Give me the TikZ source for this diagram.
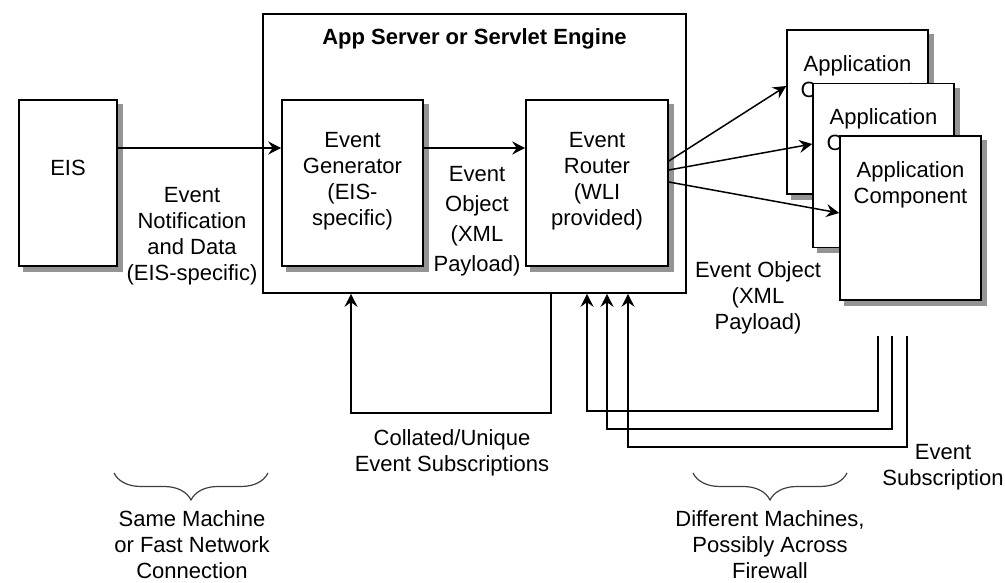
\documentclass[tikz,border=0pt]{standalone}
\usepackage{fontspec}
\setmainfont{Liberation Sans}
\usetikzlibrary{arrows.meta,positioning,backgrounds,decorations.pathreplacing}

\begin{document}
\begin{tikzpicture}[
    x=1pt, y=1pt, >={Stealth[length=13pt,width=13pt,inset=4.5pt]},
    font=\fontsize{22}{26}\selectfont,
    box/.style={draw, line width=1.6pt, fill=white, inner sep=0pt},
    appbox/.style={box, minimum width=141pt, minimum height=164pt},
    txt/.style={align=center, inner sep=0pt},
    shade/.style={fill=black!42},
    flow/.style={->, line width=1.5pt},
    span/.style={decorate, decoration={brace, mirror, amplitude=27pt},
                 line width=1.2pt, black!75}
  ]
  \useasboundingbox (0,0) rectangle (1005,582);

  % --- app server frame ---
  \node[draw, line width=1.6pt, minimum width=423pt, minimum height=279pt] (srv) at (474.5,428.5) {};
  \node[txt, font=\fontsize{22}{26}\selectfont\bfseries] (srvt) at (474.5,543) {App Server or Servlet Engine};

  % --- EIS, generator and router ---
  \node[box, minimum width=98pt, minimum height=166pt,
        label={[txt, yshift=15pt]center:EIS}] (eis) at (68,399) {};
  \node[box, minimum width=141pt, minimum height=166pt,
        label={[txt, yshift=2pt]center:{Event\\Generator\\(EIS-\\specific)}}] (gen) at (352.5,399) {};
  \node[box, minimum width=142pt, minimum height=166pt,
        label={[txt, yshift=2pt]center:{Event\\Router\\(WLI\\provided)}}] (rtr) at (597,399) {};

  % --- stacked application components ---
  \node[appbox, label={[txt, anchor=north, yshift=-26pt]north:{Application\\Component}}] (app1) at (857.5,470) {};
  \node[appbox, label={[txt, anchor=north, yshift=-26pt]north:{Application\\Component}}] (app2) at (883.5,416.5) {};
  \node[appbox, label={[txt, anchor=north, yshift=-26pt]north:{Application\\Component}}] (app3) at (910.5,364) {};

  % drop shadows behind the boxes
  \begin{scope}[on background layer]
    \foreach \n in {eis,gen,rtr,app1,app2,app3}
      \fill[shade] ([shift={(5pt,-5pt)}]\n.south west) rectangle ([shift={(5pt,-5pt)}]\n.north east);
  \end{scope}

  % text beside the flows
  \node[txt] (notif) at (192,346) {Event\\Notification\\and Data\\(EIS-specific)};
  \node[txt] (obj1) at (477,361) {Event\\[4pt]Object\\[4pt](XML\\[4pt]Payload)};
  \node[txt] (obj2) at (758,284) {Event Object\\(XML\\Payload)};
  \node[txt] (coll) at (452,129) {Collated/Unique\\Event Subscriptions};
  \node[txt] (subs) at (943,115) {Event\\Subscription};

  % event flow
  \draw[flow] ([yshift=35pt]eis.east) -- ([yshift=35pt]gen.west);
  \draw[flow] ([yshift=35pt]gen.east) -- ([yshift=35pt]rtr.west);
  \draw[flow] ([yshift=22pt]rtr.east) -- ([yshift=26pt]app1.west);
  \draw[flow] ([yshift=13pt]rtr.east) -- ([yshift=21.5pt]app2.west);
  \draw[flow] ([yshift=1pt]rtr.east)  -- ([yshift=5pt]app3.west);

  % --- subscriptions back into the server ---
  \draw[flow] ([xshift=76.5pt]srv.south) -- ++(0,-119) -| ([xshift=-123.5pt]srv.south);

  \coordinate (s1) at (878,246);
  \coordinate (s2) at (892,246);
  \coordinate (s3) at (907,246);
  \draw[flow] (s1) -- ++(0,-75)  -| ([xshift=112.5pt]srv.south);
  \draw[flow] (s2) -- ++(0,-93)  -| ([xshift=132.5pt]srv.south);
  \draw[flow] (s3) -- ++(0,-111) -| ([xshift=153.5pt]srv.south);

  % --- braces under the two zones ---
  \draw[span] (114,109) -- (268,109);
  \draw[span] (693,109) -- (847,109);
  \node[txt] (same) at (192,37) {Same Machine\\or Fast Network\\Connection};
  \node[txt] (diff) at (770,37) {Different Machines,\\Possibly Across\\Firewall};

\end{tikzpicture}
\end{document}
